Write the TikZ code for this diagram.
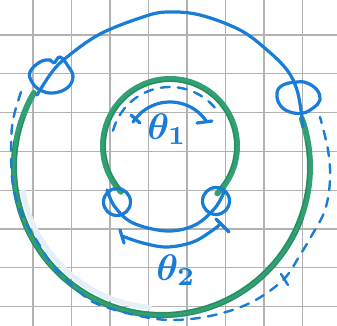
\documentclass[tikz,border=0pt]{standalone}
\definecolor{pen}{RGB}{25,125,215}
\definecolor{greenink}{RGB}{50,160,115}
\definecolor{greendark}{RGB}{30,125,85}
\definecolor{gridc}{RGB}{178,178,178}
\definecolor{smear}{RGB}{228,239,248}
\begin{document}
\begin{tikzpicture}[x=1pt,y=-1pt,
  gridline/.style={gridc, line width=1.3pt},
  bluepen/.style={pen, line width=3.2pt, line cap=round, line join=round},
  greenpen/.style={greenink, line width=6pt, line cap=round},
  greenthin/.style={greendark, line width=1.2pt, line cap=round, opacity=0.55},
  dashpen/.style={pen, line width=2.4pt, line cap=round, dash pattern=on 9pt off 8pt},
  anglelabel/.style={pen, inner sep=0pt}]
\useasboundingbox (0,0) rectangle (337,326);
\fill[white] (0,0) rectangle (337,326);
% grid
\foreach \x in {33,71.5,110,148.5,187,225.5,264,302.5}
  \draw[gridline] (\x,0) -- (\x,326);
\foreach \y in {35,73.8,112.6,151.4,190.2,229,267.8,306.6}
  \draw[gridline] (0,\y) -- (337,\y);
% centres
\coordinate (C) at (162,167);
\coordinate (c) at (170,146);
% pale smear inside outer ring
\draw[smear, line width=5pt, line cap=round] plot[domain=95:170, samples=40] ({162+141*cos(\x)},{167+141*sin(\x)});
% outer green ring
\draw[greenpen] plot[domain=-19:210, samples=90] ({162+148*cos(\x)},{167+148*sin(\x)});
\draw[greenthin] plot[domain=-10:200, samples=90] ({162+146*cos(\x)},{167+146*sin(\x)});
\draw[greenthin] plot[domain=20:190, samples=90] ({162+150.5*cos(\x)},{167+150.5*sin(\x)});
% inner green ring
\draw[greenpen] plot[domain=137:405, samples=90] ({170+67*cos(\x)},{146+67*sin(\x)});
\draw[greenthin] plot[domain=140:400, samples=90] ({170+65*cos(\x)},{146+65*sin(\x)});
% outer dashed blue
\draw[dashpen] plot[smooth, tension=0.6] coordinates {(21,92) (13,120) (11,150) (13,185) (22,215) (37,241) (55,268) (83,295) (100,305) (135,315) (170,320) (210,316) (250,303) (283,280) (300,255) (312,235) (325,210) (330,180) (328,150) (320,117)};
\draw[bluepen, line width=2.4pt] (281,274) -- (288,285);
% inner dashed blue
\draw[dashpen] plot[domain=195:322, samples=50] ({170+59*cos(\x)},{146+59*sin(\x)});
% big blue arc through the large ovals
\coordinate (L) at (51,76);
\coordinate (R) at (298,98);
\draw[bluepen] plot[smooth, tension=0.6] coordinates {(37,95) (52,72) (67,57) (100,34) (143,17) (167,12) (200,15) (240,30) (267,50) (287,70) (297,90) (302,117) (303,127)};
\draw[bluepen] plot[smooth cycle, tension=0.7] coordinates {(30,72) (40,62) (50,60) (54,63) (60,57) (68,66) (73,77) (67,88) (53,93) (40,90) (32,82)};
\draw[bluepen] plot[smooth cycle, tension=0.7] coordinates {(277,93) (283,85) (297,82) (307,83) (317,90) (320,100) (313,108) (303,113) (290,112) (280,105)};
% small ovals and lower arc
\coordinate (l) at (117,202);
\coordinate (r) at (216,201);
\draw[bluepen] (l) circle[radius=13.5pt];
\draw[bluepen] (r) circle[radius=13.5pt];
\draw[bluepen] plot[smooth, tension=0.6] coordinates {(107,190) (115,207) (133,223) (167,231) (195,225) (215,208) (224,192)};
% theta1 bracket
\draw[bluepen] plot[domain=213:325, samples=40] ({170+44*cos(\x)},{146+44*sin(\x)});
\draw[bluepen] (140,123) -- (131,115);
\draw[bluepen] (197,123) -- (212,121);
\node[anglelabel] (t1) at (167,129) {\scalebox{3.7}{\boldmath$\theta_1$}};
% theta2 bracket
\draw[bluepen] plot[smooth, tension=0.6] coordinates {(122,236) (143,243) (167,247) (193,242) (213,230) (219,225)};
\draw[bluepen] (120,230) -- (124,243);
\draw[bluepen] (216,219) -- (229,232);
\node[anglelabel] (t2) at (176,270) {\scalebox{3.7}{\boldmath$\theta_2$}};
\end{tikzpicture}
\end{document}
